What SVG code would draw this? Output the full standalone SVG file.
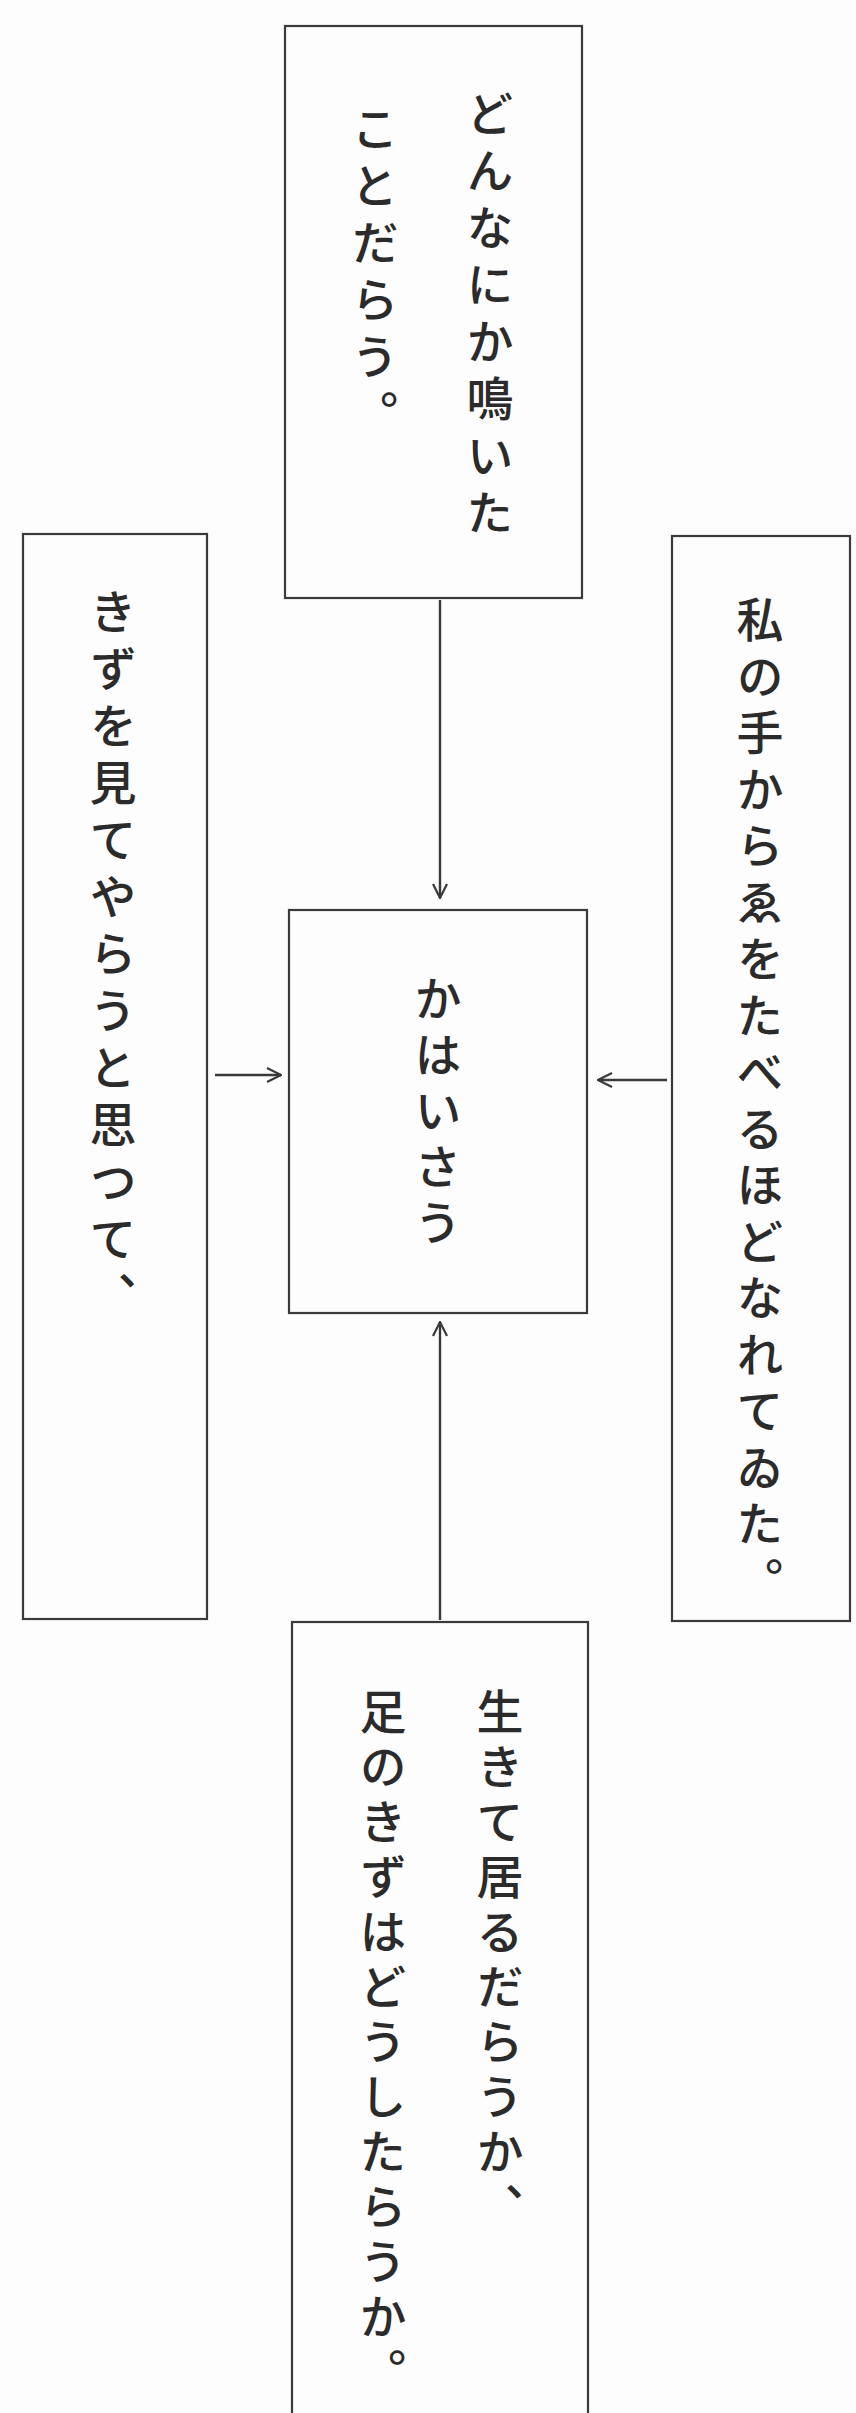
<svg xmlns="http://www.w3.org/2000/svg" width="856" height="2413" viewBox="0 0 856 2413">
<style>
.box{fill:none;stroke:#3a3a3a;stroke-width:2.2}
.t{font-family:"Noto Sans CJK JP","Noto Sans CJK SC",sans-serif;font-size:47px;font-weight:500;fill:#2b2b2b;writing-mode:vertical-rl}
.conn{stroke:#3a3a3a;stroke-width:2.4;fill:none}
</style>
<defs>
<marker id="arr" viewBox="0 0 16 16" refX="15" refY="8" markerWidth="16" markerHeight="16" markerUnits="userSpaceOnUse" orient="auto">
<path d="M1,1 L15,8 L1,15" fill="none" stroke="#3a3a3a" stroke-width="2.2"/>
</marker>
</defs>
<rect width="856" height="2413" fill="#fdfdfd"/>
<g id="connectors">
<line class="conn" x1="440" y1="600" x2="440" y2="898" marker-end="url(#arr)"/>
<line class="conn" x1="440" y1="1620" x2="440" y2="1322" marker-end="url(#arr)"/>
<line class="conn" x1="215" y1="1075" x2="281" y2="1075" marker-end="url(#arr)"/>
<line class="conn" x1="667" y1="1080" x2="598" y2="1080" marker-end="url(#arr)"/>
</g>
<g id="top">
<rect class="box" x="285" y="26" width="297" height="572"/>
<text class="t" x="490" y="90" style="letter-spacing:10px">どんなにか鳴いた</text>
<text class="t" x="375" y="105" style="letter-spacing:10px">ことだらう。</text>
</g>
<g id="left">
<rect class="box" x="23" y="534" width="184" height="1085"/>
<text class="t" x="113" y="588" style="letter-spacing:10px">きずを見てやらうと思つて、</text>
</g>
<g id="right">
<rect class="box" x="672" y="536" width="178" height="1085"/>
<text class="t" x="760" y="596" style="letter-spacing:9.5px">私の手からゑをたべるほどなれてゐた。</text>
</g>
<g id="center">
<rect class="box" x="289" y="910" width="298" height="403"/>
<text class="t" x="438" y="975" style="letter-spacing:9px">かはいさう</text>
</g>
<g id="bottom">
<rect class="box" x="292" y="1622" width="296" height="810"/>
<text class="t" x="500" y="1688" style="letter-spacing:8px">生きて居るだらうか、</text>
<text class="t" x="383" y="1688" style="letter-spacing:8px">足のきずはどうしたらうか。</text>
</g>
</svg>
